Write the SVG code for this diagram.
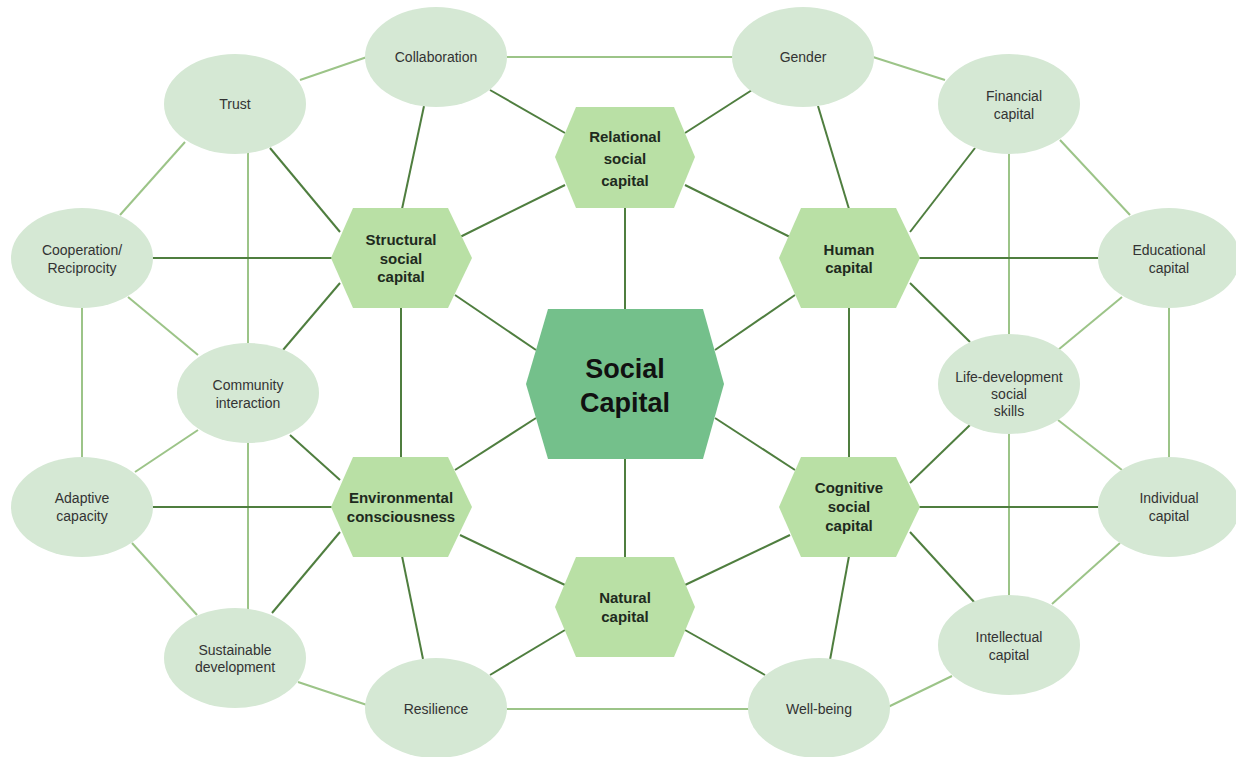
<svg xmlns="http://www.w3.org/2000/svg" width="1236" height="757" viewBox="0 0 1236 757">
<style>
.el{fill:#d5e8d4;stroke:none}
.hx{fill:#b9e0a5;stroke:none}
.cx{fill:#74c08b;stroke:none}
.lt{font-family:"Liberation Sans",Arial,sans-serif;font-size:14px;fill:#333;text-anchor:middle}
.ht{font-family:"Liberation Sans",Arial,sans-serif;font-size:15px;font-weight:bold;fill:#1e2a1e;text-anchor:middle}
.ct{font-family:"Liberation Sans",Arial,sans-serif;font-size:27px;font-weight:bold;fill:#111;text-anchor:middle}
.dk{stroke:#4f7e3f;stroke-width:2;fill:none}
.lg{stroke:#9cc488;stroke-width:2;fill:none}
</style>
<rect width="1236" height="757" fill="#ffffff"/>
<g id="connectors">
<g class="lg">
<line x1="300" y1="80" x2="367" y2="57"/>
<line x1="507" y1="57" x2="733" y2="57"/>
<line x1="873" y1="57" x2="945" y2="80"/>
<line x1="185" y1="142" x2="120" y2="215"/>
<line x1="248" y1="152" x2="248" y2="344"/>
<line x1="128" y1="297" x2="198" y2="355"/>
<line x1="82" y1="308" x2="82" y2="457"/>
<line x1="198" y1="430" x2="135" y2="472"/>
<line x1="248" y1="443" x2="248" y2="609"/>
<line x1="132" y1="543" x2="197" y2="615"/>
<line x1="298" y1="682" x2="367" y2="705"/>
<line x1="507" y1="709" x2="750" y2="709"/>
<line x1="888" y1="707" x2="952" y2="676"/>
<line x1="1060" y1="140" x2="1130" y2="215"/>
<line x1="1009" y1="154" x2="1009" y2="335"/>
<line x1="1122" y1="297" x2="1058" y2="350"/>
<line x1="1169" y1="308" x2="1169" y2="457"/>
<line x1="1058" y1="420" x2="1122" y2="470"/>
<line x1="1009" y1="433" x2="1009" y2="596"/>
<line x1="1120" y1="543" x2="1052" y2="604"/>
</g>
<g class="dk">
<line x1="455" y1="295" x2="536" y2="350"/>
<line x1="795" y1="295" x2="715" y2="350"/>
<line x1="455" y1="470" x2="536" y2="418"/>
<line x1="795" y1="470" x2="715" y2="418"/>
<line x1="625" y1="207" x2="625" y2="310"/>
<line x1="625" y1="458" x2="625" y2="558"/>
<line x1="490" y1="90" x2="565" y2="133"/>
<line x1="752" y1="90" x2="685" y2="133"/>
<line x1="565" y1="185" x2="460" y2="237"/>
<line x1="685" y1="185" x2="790" y2="237"/>
<line x1="424" y1="106" x2="402" y2="209"/>
<line x1="270" y1="148" x2="340" y2="232"/>
<line x1="152" y1="258" x2="332" y2="258"/>
<line x1="283" y1="350" x2="340" y2="283"/>
<line x1="401" y1="307" x2="401" y2="458"/>
<line x1="818" y1="106" x2="849" y2="209"/>
<line x1="975" y1="148" x2="910" y2="232"/>
<line x1="919" y1="258" x2="1099" y2="258"/>
<line x1="970" y1="342" x2="910" y2="283"/>
<line x1="849" y1="307" x2="849" y2="458"/>
<line x1="290" y1="435" x2="340" y2="480"/>
<line x1="152" y1="507" x2="332" y2="507"/>
<line x1="272" y1="613" x2="340" y2="532"/>
<line x1="402" y1="556" x2="423" y2="659"/>
<line x1="460" y1="535" x2="565" y2="585"/>
<line x1="970" y1="425" x2="910" y2="483"/>
<line x1="919" y1="507" x2="1099" y2="507"/>
<line x1="975" y1="603" x2="910" y2="532"/>
<line x1="849" y1="556" x2="830" y2="660"/>
<line x1="790" y1="535" x2="685" y2="585"/>
<line x1="565" y1="630" x2="490" y2="675"/>
<line x1="685" y1="630" x2="765" y2="675"/>
</g>
</g>
<g id="collaboration"><ellipse class="el" cx="436" cy="57" rx="71" ry="50"/><text class="lt" x="436" y="62">Collaboration</text></g>
<g id="gender"><ellipse class="el" cx="803" cy="57" rx="71" ry="50"/><text class="lt" x="803" y="62">Gender</text></g>
<g id="trust"><ellipse class="el" cx="235" cy="104" rx="71" ry="50"/><text class="lt" x="235" y="109">Trust</text></g>
<g id="financial"><ellipse class="el" cx="1009" cy="104" rx="71" ry="50"/><text class="lt" x="1014" y="101">Financial</text><text class="lt" x="1014" y="119">capital</text></g>
<g id="cooperation"><ellipse class="el" cx="82" cy="258" rx="71" ry="50"/><text class="lt" x="82" y="255">Cooperation/</text><text class="lt" x="82" y="273">Reciprocity</text></g>
<g id="educational"><ellipse class="el" cx="1169" cy="258" rx="71" ry="50"/><text class="lt" x="1169" y="255">Educational</text><text class="lt" x="1169" y="273">capital</text></g>
<g id="community"><ellipse class="el" cx="248" cy="393" rx="71" ry="50"/><text class="lt" x="248" y="390">Community</text><text class="lt" x="248" y="408">interaction</text></g>
<g id="lifedev"><ellipse class="el" cx="1009" cy="384" rx="71" ry="50"/><text class="lt" x="1009" y="382">Life-development</text><text class="lt" x="1009" y="399">social</text><text class="lt" x="1009" y="416">skills</text></g>
<g id="adaptive"><ellipse class="el" cx="82" cy="507" rx="71" ry="50"/><text class="lt" x="82" y="503">Adaptive</text><text class="lt" x="82" y="521">capacity</text></g>
<g id="individual"><ellipse class="el" cx="1169" cy="507" rx="71" ry="50"/><text class="lt" x="1169" y="503">Individual</text><text class="lt" x="1169" y="521">capital</text></g>
<g id="sustainable"><ellipse class="el" cx="235" cy="658" rx="71" ry="50"/><text class="lt" x="235" y="655">Sustainable</text><text class="lt" x="235" y="672">development</text></g>
<g id="intellectual"><ellipse class="el" cx="1009" cy="645" rx="71" ry="50"/><text class="lt" x="1009" y="642">Intellectual</text><text class="lt" x="1009" y="660">capital</text></g>
<g id="resilience"><ellipse class="el" cx="436" cy="708" rx="71" ry="50"/><text class="lt" x="436" y="714">Resilience</text></g>
<g id="wellbeing"><ellipse class="el" cx="819" cy="708" rx="71" ry="50"/><text class="lt" x="819" y="714">Well-being</text></g>
<g id="relational"><polygon class="hx" points="576,107 674,107 695,157 674,208 576,208 555,157"/><text class="ht" x="625" y="142">Relational</text><text class="ht" x="625" y="164">social</text><text class="ht" x="625" y="186">capital</text></g>
<g id="structural"><polygon class="hx" points="353,208 448,208 472,258 448,308 353,308 331,258"/><text class="ht" x="401" y="245">Structural</text><text class="ht" x="401" y="264">social</text><text class="ht" x="401" y="282">capital</text></g>
<g id="human"><polygon class="hx" points="801,208 896,208 920,258 896,308 801,308 779,258"/><text class="ht" x="849" y="255">Human</text><text class="ht" x="849" y="273">capital</text></g>
<g id="environmental"><polygon class="hx" points="353,457 448,457 472,507 448,557 353,557 331,507"/><text class="ht" x="401" y="503">Environmental</text><text class="ht" x="401" y="522">consciousness</text></g>
<g id="cognitive"><polygon class="hx" points="801,457 896,457 920,507 896,557 801,557 779,507"/><text class="ht" x="849" y="493">Cognitive</text><text class="ht" x="849" y="512">social</text><text class="ht" x="849" y="531">capital</text></g>
<g id="natural"><polygon class="hx" points="576,557 674,557 695,607 674,657 576,657 555,607"/><text class="ht" x="625" y="603">Natural</text><text class="ht" x="625" y="622">capital</text></g>
<g id="social-capital"><polygon class="cx" points="548,309 703,309 724,384 703,459 548,459 526,384"/><text class="ct" x="625" y="378">Social</text><text class="ct" x="625" y="412">Capital</text></g>
</svg>
